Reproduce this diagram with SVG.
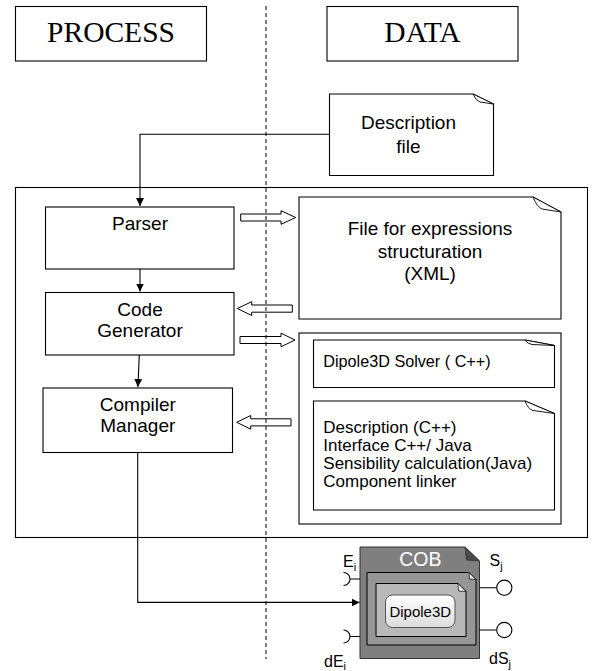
<svg xmlns="http://www.w3.org/2000/svg" width="595" height="671" viewBox="0 0 595 671">
<style>
.box{fill:#fff;stroke:#000;stroke-width:1.1}
.t{font-family:"Liberation Sans",Arial,sans-serif;fill:#000}
.c{text-anchor:middle}
.hdr{font-family:"Liberation Serif","Times New Roman",serif;font-size:29.5px;text-anchor:middle;fill:#000}
.ln{fill:none;stroke:#000;stroke-width:1.1}
.blk{fill:#fff;stroke:#000;stroke-width:1}
.curl{fill:#fff;stroke:#000;stroke-width:0.9}
</style>
<defs>
<marker id="ah" markerUnits="userSpaceOnUse" markerWidth="9" markerHeight="9" refX="8" refY="4" orient="auto">
<path d="M0,0 L8,4 L0,8 z" fill="#000"/>
</marker>
<linearGradient id="dg" x1="0" y1="0" x2="0" y2="1">
<stop offset="0" stop-color="#ffffff"/>
<stop offset="1" stop-color="#dcdcdc"/>
</linearGradient>
</defs>

<g id="process-header">
<rect class="box" x="15.5" y="6.5" width="191" height="54.5"/>
<text class="hdr" x="111" y="42">PROCESS</text>
</g>
<g id="data-header">
<rect class="box" x="327" y="6.5" width="191" height="54.5"/>
<text class="hdr" x="422.5" y="42">DATA</text>
</g>

<g id="description-file">
<path class="box" d="M329.5,94 L473,94 L493.5,104 L493.5,175.5 L329.5,175.5 Z"/>
<path class="curl" d="M473,94 Q476,101 480,102 L493.5,104 Z"/>
<text class="t c" font-size="19" x="408.5" y="129.3">Description</text>
<text class="t c" font-size="19" x="408.5" y="153.3">file</text>
</g>

<g id="environment">
<rect class="box" x="15.5" y="187.5" width="572" height="350" fill="none"/>
</g>

<g id="parser">
<rect class="box" x="45.5" y="207" width="188.5" height="62"/>
<text class="t c" font-size="19" x="140" y="230">Parser</text>
</g>
<g id="code-generator">
<rect class="box" x="45.5" y="292.5" width="188.5" height="62.5"/>
<text class="t c" font-size="19" x="140" y="316">Code</text>
<text class="t c" font-size="19" x="140" y="337.3">Generator</text>
</g>
<g id="compiler-manager">
<rect class="box" x="43" y="388" width="189.5" height="64.5"/>
<text class="t c" font-size="19" x="137.8" y="410.7">Compiler</text>
<text class="t c" font-size="19" x="137.8" y="431.7">Manager</text>
</g>

<g id="xml-file">
<path class="box" d="M299,197 L533,197 L561,212 L561,319 L299,319 Z"/>
<path class="curl" d="M533,197 Q537,207 542,209 L561,212 Z"/>
<text class="t c" font-size="19" x="430" y="235">File for expressions</text>
<text class="t c" font-size="19" x="430" y="257.5">structuration</text>
<text class="t c" font-size="19" x="430" y="280">(XML)</text>
</g>

<g id="generated-code">
<rect class="box" x="299" y="333" width="262" height="191"/>
</g>
<g id="solver-file">
<path class="box" d="M313.5,340 L525,340 L554.5,345.5 L554.5,387.5 L313.5,387.5 Z"/>
<path class="curl" d="M525,340 Q528,344 532,344.5 L554.5,345.5 Z"/>
<text class="t" font-size="16.2" x="323.3" y="366.7">Dipole3D Solver ( C++)</text>
</g>
<g id="description-code">
<path class="box" d="M313.5,401 L525,401 L554.5,413.5 L554.5,510 L313.5,510 Z"/>
<path class="curl" d="M525,401 Q528,409 533,410.5 L554.5,413.5 Z"/>
<text class="t" font-size="17" x="323.3" y="433">Description (C++)</text>
<text class="t" font-size="17" x="323.3" y="451">Interface C++/ Java</text>
<text class="t" font-size="17" x="323.3" y="469">Sensibility calculation(Java)</text>
<text class="t" font-size="17" x="323.3" y="487">Component linker</text>
</g>

<g id="cob">
<path d="M360,547 L465,547 L479.5,561 L479.5,658.5 L360,658.5 Z" fill="#7f7f7f" stroke="#333" stroke-width="1"/>
<path d="M465,547 L479.5,561 L466.5,560 Z" fill="#4a4a4a" stroke="#333" stroke-width="0.8"/>
<text x="420.3" y="565.7" font-family="Liberation Sans,Arial,sans-serif" font-size="19.5" fill="#fff" text-anchor="middle">COB</text>
<path d="M367,572.5 L469,572.5 L476,579.5 L476,645 L367,645 Z" fill="#969696" stroke="#000" stroke-width="1"/>
<path d="M469,572.5 L476,579.5 L469.5,579 Z" fill="#e8e8e8" stroke="#000" stroke-width="0.7"/>
<path d="M376,583.5 L458,583.5 L466,591.5 L466,636.5 L376,636.5 Z" fill="#b9b9b9" stroke="#000" stroke-width="1"/>
<path d="M458,583.5 L466,591.5 L458.5,591 Z" fill="#eeeeee" stroke="#000" stroke-width="0.7"/>
<rect x="385.5" y="595" width="69.5" height="32.5" rx="7" fill="url(#dg)" stroke="#555" stroke-width="1"/>
<text class="t c" font-size="15" x="420.3" y="616.5">Dipole3D</text>
<path class="ln" d="M343.5,572.5 A6.5,6.5 0 0 1 343.5,585.5 M349.8,579 L360,579"/>
<path class="ln" d="M343.5,630 A6.5,6.5 0 0 1 343.5,643 M349.8,636.5 L360,636.5"/>
<text class="t" font-size="16" x="343" y="566.7">E<tspan font-size="11" dy="4">i</tspan></text>
<text class="t" font-size="16" x="324" y="666.5">dE<tspan font-size="11" dy="3.5">i</tspan></text>
<path class="ln" d="M479.5,587.7 L496.7,587.7 M479.5,630 L496.7,630"/>
<circle cx="504.3" cy="587.7" r="7.6" fill="#fff" stroke="#000" stroke-width="1.1"/>
<circle cx="504.3" cy="630" r="7.6" fill="#fff" stroke="#000" stroke-width="1.1"/>
<text class="t" font-size="16" x="489.5" y="566">S<tspan font-size="11" dy="4">j</tspan></text>
<text class="t" font-size="16" x="489" y="664">dS<tspan font-size="11" dy="4">j</tspan></text>
</g>

<g id="connectors">
<path class="ln" d="M329.5,134.3 L140,134.3 L140,206" marker-end="url(#ah)"/>
<path class="ln" d="M140,269 L140,291.5" marker-end="url(#ah)"/>
<path class="ln" d="M139.3,355 L137.9,387" marker-end="url(#ah)"/>
<path class="ln" d="M137.7,452.5 L137.7,602.4 L359.5,602.4" marker-end="url(#ah)"/>
<polygon class="blk" points="240.7,214 281,214 281,210.7 295.7,217.5 281,224.3 281,221 240.7,221"/>
<polygon class="blk" points="292.3,305 251.7,305 251.7,301.7 237.3,308.5 251.7,315.5 251.7,312.2 292.3,312.2"/>
<polygon class="blk" points="240,336.5 281,336.5 281,333.2 295,340 281,346.8 281,343.5 240,343.5"/>
<polygon class="blk" points="291,418.8 250.7,418.8 250.7,415.5 236.7,422.3 250.7,429.2 250.7,425.9 291,425.9"/>
<line x1="266" y1="6" x2="266" y2="659" stroke="#000" stroke-width="1" stroke-dasharray="4,3"/>
</g>
</svg>
